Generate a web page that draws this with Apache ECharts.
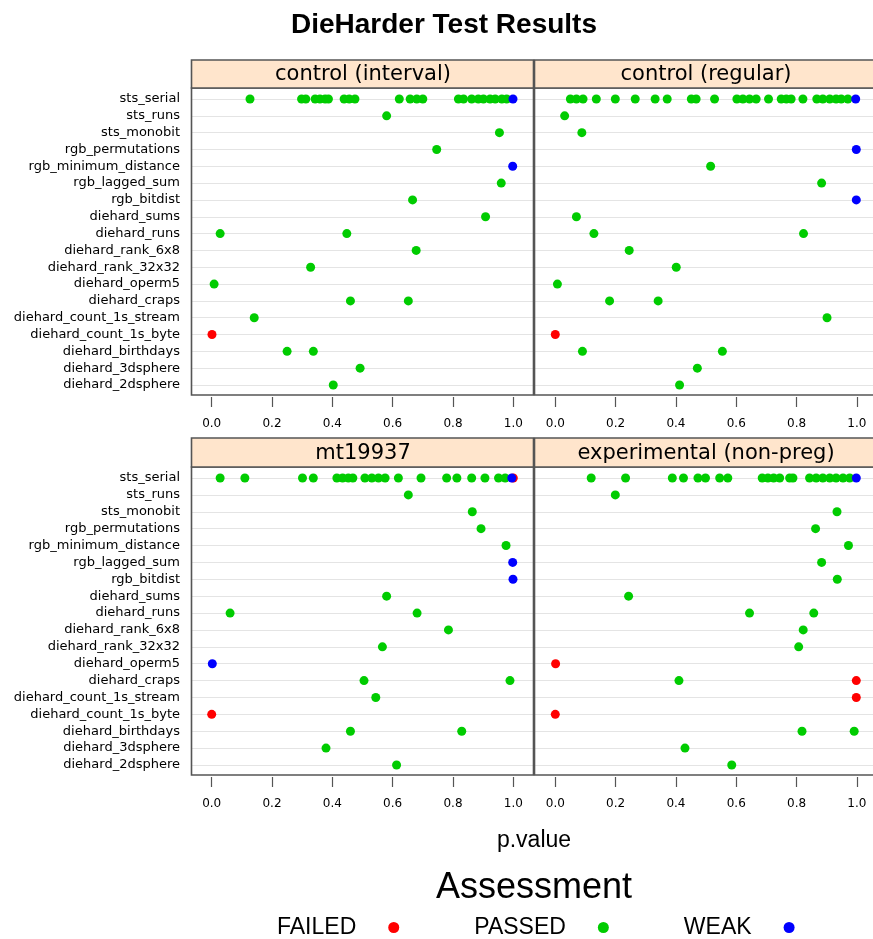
<!DOCTYPE html>
<html><head><meta charset="utf-8">
<script src="https://cdn.jsdelivr.net/npm/echarts@6/dist/echarts.min.js"></script>
<style>html,body{margin:0;padding:0;background:#fff}#c{width:873px;height:939px}</style>
</head><body><div id="c"></div><script>
// ---------- data ----------
const tests = ['sts_serial','sts_runs','sts_monobit','rgb_permutations','rgb_minimum_distance','rgb_lagged_sum','rgb_bitdist','diehard_sums','diehard_runs','diehard_rank_6x8','diehard_rank_32x32','diehard_operm5','diehard_craps','diehard_count_1s_stream','diehard_count_1s_byte','diehard_birthdays','diehard_3dsphere','diehard_2dsphere'];
const panels = ['control (interval)','control (regular)','mt19937','experimental (non-preg)'];
const assessments = ['FAILED','PASSED','WEAK'];
const tickValues = [0, 0.2, 0.4, 0.6, 0.8, 1.0];

// control (interval)
const intervalSerialPassed = [0.127,0.298,0.312,0.343,0.359,0.376,0.387,0.439,0.456,0.475,0.622,0.658,0.68,0.70,0.818,0.835,0.862,0.884,0.901,0.923,0.94,0.962,0.978];
const intervalPassed = [[0.580,'sts_runs'],[0.954,'sts_monobit'],[0.746,'rgb_permutations'],[0.960,'rgb_lagged_sum'],[0.666,'rgb_bitdist'],[0.908,'diehard_sums'],[0.028,'diehard_runs'],[0.448,'diehard_runs'],[0.678,'diehard_rank_6x8'],[0.328,'diehard_rank_32x32'],[0.008,'diehard_operm5'],[0.460,'diehard_craps'],[0.652,'diehard_craps'],[0.141,'diehard_count_1s_stream'],[0.250,'diehard_birthdays'],[0.337,'diehard_birthdays'],[0.492,'diehard_3dsphere'],[0.403,'diehard_2dsphere']];
const intervalFailed = [[0.001,'diehard_count_1s_byte']];
const intervalWeak = [[0.999,'sts_serial'],[0.998,'rgb_minimum_distance']];

// control (regular)
const regularSerialPassed = [0.050,0.070,0.092,0.136,0.199,0.265,0.331,0.371,0.451,0.467,0.528,0.602,0.622,0.644,0.666,0.707,0.749,0.766,0.782,0.821,0.867,0.887,0.910,0.931,0.948,0.970];
const regularPassed = [[0.031,'sts_runs'],[0.088,'sts_monobit'],[0.515,'rgb_minimum_distance'],[0.883,'rgb_lagged_sum'],[0.070,'diehard_sums'],[0.128,'diehard_runs'],[0.823,'diehard_runs'],[0.245,'diehard_rank_6x8'],[0.401,'diehard_rank_32x32'],[0.007,'diehard_operm5'],[0.180,'diehard_craps'],[0.341,'diehard_craps'],[0.901,'diehard_count_1s_stream'],[0.090,'diehard_birthdays'],[0.554,'diehard_birthdays'],[0.471,'diehard_3dsphere'],[0.412,'diehard_2dsphere']];
const regularFailed = [[0.0,'diehard_count_1s_byte']];
const regularWeak = [[0.996,'sts_serial'],[0.998,'rgb_permutations'],[0.998,'rgb_bitdist']];

// mt19937
const mtSerialPassed = [0.028,0.110,0.301,0.337,0.415,0.434,0.453,0.468,0.508,0.531,0.553,0.575,0.619,0.694,0.779,0.813,0.862,0.906,0.951,0.973];
const mtPassed = [[0.652,'sts_runs'],[0.864,'sts_monobit'],[0.893,'rgb_permutations'],[0.976,'rgb_minimum_distance'],[0.580,'diehard_sums'],[0.061,'diehard_runs'],[0.681,'diehard_runs'],[0.785,'diehard_rank_6x8'],[0.566,'diehard_rank_32x32'],[0.505,'diehard_craps'],[0.989,'diehard_craps'],[0.544,'diehard_count_1s_stream'],[0.460,'diehard_birthdays'],[0.829,'diehard_birthdays'],[0.379,'diehard_3dsphere'],[0.613,'diehard_2dsphere']];
const mtFailed = [[1.0,'sts_serial'],[0.0,'diehard_count_1s_byte']];
const mtWeak = [[0.995,'sts_serial'],[0.998,'rgb_lagged_sum'],[0.999,'rgb_bitdist'],[0.002,'diehard_operm5']];

// experimental (non-preg)
const expSerialPassed = [0.119,0.233,0.388,0.425,0.473,0.498,0.545,0.572,0.686,0.705,0.724,0.744,0.777,0.788,0.843,0.865,0.887,0.910,0.931,0.954,0.976];
const expPassed = [[0.199,'sts_runs'],[0.934,'sts_monobit'],[0.863,'rgb_permutations'],[0.972,'rgb_minimum_distance'],[0.883,'rgb_lagged_sum'],[0.935,'rgb_bitdist'],[0.243,'diehard_sums'],[0.644,'diehard_runs'],[0.857,'diehard_runs'],[0.822,'diehard_rank_6x8'],[0.807,'diehard_rank_32x32'],[0.410,'diehard_craps'],[0.818,'diehard_birthdays'],[0.991,'diehard_birthdays'],[0.430,'diehard_3dsphere'],[0.585,'diehard_2dsphere']];
const expFailed = [[0.001,'diehard_operm5'],[0.998,'diehard_craps'],[0.998,'diehard_count_1s_stream'],[0.0,'diehard_count_1s_byte']];
const expWeak = [[0.998,'sts_serial']];

// ---------- assembly ----------
const serialOf = a => a.map(v => [v, 'sts_serial']);
const panelData = [
  {FAILED: intervalFailed, PASSED: serialOf(intervalSerialPassed).concat(intervalPassed), WEAK: intervalWeak},
  {FAILED: regularFailed,  PASSED: serialOf(regularSerialPassed).concat(regularPassed),   WEAK: regularWeak},
  {FAILED: mtFailed,       PASSED: serialOf(mtSerialPassed).concat(mtPassed),             WEAK: mtWeak},
  {FAILED: expFailed,      PASSED: serialOf(expSerialPassed).concat(expPassed),           WEAK: expWeak}
];
const colors = {FAILED: '#ff0000', PASSED: '#00cc00', WEAK: '#0000ff'};

// layout (pixels)
const frameLeft = [192, 535], frameWidth = 342;
const dataLeft = [211.7, 555.3], dataWidth = 301.6;
const stripTop = [60, 438], stripH = [28, 29];
const plotTop = [88, 467], plotBottom = [395, 775];
const rowTop = [99, 478], rowH = [286, 287];
const FRAME = '#555555';

const grid = [], xAxis = [], yAxis = [], series = [], graphic = [];
panels.forEach((name, i) => {
  const c = i % 2, r = Math.floor(i / 2);
  // row-line grid (full panel width)
  grid.push({left: frameLeft[c], width: frameWidth, top: rowTop[r], height: rowH[r], containLabel: false});
  const gRows = grid.length - 1;
  xAxis.push({gridIndex: gRows, type: 'value', min: 0, max: 1, show: false});
  yAxis.push({gridIndex: gRows, type: 'category', data: tests, inverse: true, boundaryGap: false,
    axisLine: {show: false}, axisTick: {show: false},
    axisLabel: {show: c === 0, interval: 0, margin: 12, color: '#000', fontSize: 13, fontFamily: 'DejaVu Sans'},
    splitLine: {show: true, interval: 0, lineStyle: {color: '#e4e4e4', width: 1.2}}});
  // data grid (0..1 exactly)
  grid.push({left: dataLeft[c], width: dataWidth, top: rowTop[r], height: rowH[r], containLabel: false});
  const gData = grid.length - 1;
  xAxis.push({gridIndex: gData, type: 'value', min: 0, max: 1, interval: 0.2, offset: 12,
    axisLine: {show: false}, splitLine: {show: false},
    axisTick: {show: true, length: 10, lineStyle: {color: '#555', width: 1.2}},
    axisLabel: {show: true, margin: 21, color: '#000', fontSize: 12, fontFamily: 'DejaVu Sans',
      formatter: v => tickValues.some(t => Math.abs(t - v) < 1e-9) ? v.toFixed(1) : ''}});
  yAxis.push({gridIndex: gData, type: 'category', data: tests, inverse: true, boundaryGap: false, show: false});
  const axIdx = xAxis.length - 1;
  assessments.forEach(a => {
    series.push({type: 'scatter', name: a, xAxisIndex: axIdx, yAxisIndex: axIdx,
      data: panelData[i][a], symbol: 'circle', symbolSize: 9, clip: false,
      itemStyle: {color: colors[a], opacity: 1}, emphasis: {disabled: true}, z: 3});
  });
  // frame + strip
  graphic.push({type: 'rect', z: 1, shape: {x: frameLeft[c] - 0.5, y: plotTop[r], width: frameWidth, height: plotBottom[r] - plotTop[r]},
    style: {fill: 'none', stroke: FRAME, lineWidth: 1.6}});
  graphic.push({type: 'rect', z: 1, shape: {x: frameLeft[c] - 0.5, y: stripTop[r], width: frameWidth, height: stripH[r]},
    style: {fill: '#ffe5cc', stroke: FRAME, lineWidth: 1.6}});
  graphic.push({type: 'text', z: 2, x: frameLeft[c] + frameWidth / 2, y: stripTop[r] + stripH[r] / 2 + 1,
    style: {text: name, fill: '#000', font: '21px "DejaVu Sans"', align: 'center', verticalAlign: 'middle'}});
});

graphic.push({type: 'text', x: 444, y: 25, style: {text: 'DieHarder Test Results', fill: '#000', font: 'bold 28px "Liberation Sans"', align: 'center', verticalAlign: 'middle'}});
graphic.push({type: 'text', x: 534, y: 841, style: {text: 'p.value', fill: '#000', font: '23px "Liberation Sans"', align: 'center', verticalAlign: 'middle'}});
graphic.push({type: 'text', x: 534, y: 888, style: {text: 'Assessment', fill: '#000', font: '36px "Liberation Sans"', align: 'center', verticalAlign: 'middle'}});

const chart = echarts.init(document.getElementById('c'), null, {renderer: 'canvas'});
chart.setOption({
  animation: false,
  backgroundColor: '#fff',
  grid, xAxis, yAxis, series, graphic,
  legend: {data: assessments, left: 277, top: 916, padding: 0, orient: 'horizontal', align: 'right',
    itemGap: 75, itemWidth: 11, itemHeight: 11, icon: 'circle', selectedMode: false,
    textStyle: {fontSize: 23, fontFamily: 'Liberation Sans', color: '#000', padding: [0, 27, 0, 0]}}
});
</script></body></html>
